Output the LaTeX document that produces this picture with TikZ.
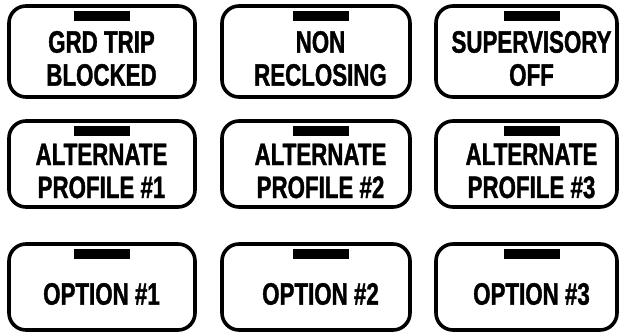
\documentclass[tikz,border=0pt]{standalone}
\usepackage{fontspec}
\newfontfamily\lblfont{Liberation Sans}[FakeStretch=0.72, BoldFeatures={FakeBold=1.2}]
\usetikzlibrary{positioning}
\tikzset{
  panel/.style={draw, line width=3.6pt, rounded corners=17pt, inner sep=0pt},
  lamp/.style={fill, inner sep=0pt, minimum width=56pt, minimum height=10pt},
  legend/.style={font=\lblfont\bfseries\fontsize{31}{33}\selectfont, align=center, inner sep=0pt}
}
\begin{document}
\begin{tikzpicture}[x=1pt,y=-1pt]
\useasboundingbox (0,0) rectangle (619,333);
% row 1
\foreach \nm/\x/\y/\w/\h/\dx/\txt in {
  grd/102/51.5/186/91/-0.5/{GRD TRIP\\BLOCKED},
  nonrecl/316/51.5/188/91/4.5/{NON\\RECLOSING},
  superv/526.5/51.5/181/91/5/{SUPERVISORY\\OFF},
  altone/102/164/186/86/-0.5/{ALTERNATE\\PROFILE \#1},
  alttwo/316/164/188/86/4.5/{ALTERNATE\\PROFILE \#2},
  altthree/526.5/164/181/86/5/{ALTERNATE\\PROFILE \#3},
  optone/102/287/186/86/-0.5/{OPTION \#1},
  opttwo/316/287/188/86/4.5/{OPTION \#2},
  optthree/526.5/287/181/86/5/{OPTION \#3}}
{
  \node[panel, minimum width=\w pt, minimum height=\h pt] (\nm) at (\x,\y) {};
  \node[lamp, below=6.5pt of \nm.north, xshift=\dx pt] (\nm-lamp) {};
  \node[legend, xshift=\dx pt, yshift=-7pt] (\nm-text) at (\nm.center) {\txt};
}
\end{tikzpicture}
\end{document}
